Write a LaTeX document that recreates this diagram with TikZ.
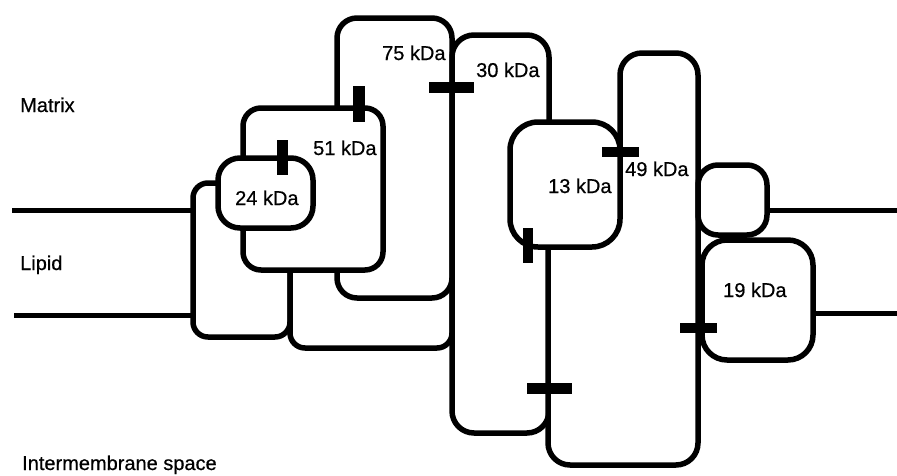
\documentclass[tikz,border=0pt]{standalone}
\usepackage{fontspec}
\setmainfont{Liberation Sans}
\newfontfamily\lblfont{Liberation Sans}[FakeBold=0.6]
\begin{document}
\begin{tikzpicture}[x=1pt,y=-1pt,
  prot/.style={draw=black,fill=white,line width=5.5pt,line join=round},
  memb/.style={draw=black,line width=5pt},
  tickbar/.style={fill=black},
  lbl/.style={inner sep=0pt,anchor=base west,font=\lblfont\fontsize{20}{24}\selectfont}]
\useasboundingbox (0,0) rectangle (897,475);
% membrane end points
\coordinate (mlt0) at (12,210); \coordinate (mlt1) at (193,210);
\coordinate (mlb0) at (14,315); \coordinate (mlb1) at (193,315);
\coordinate (mrt0) at (767,210); \coordinate (mrt1) at (897,210);
\coordinate (mrb0) at (813,313); \coordinate (mrb1) at (897,313);
\draw[memb] (mlt0) -- (mlt1);
\draw[memb] (mlb0) -- (mlb1);
\draw[memb] (mrt0) -- (mrt1);
\draw[memb] (mrb0) -- (mrb1);
% subunits, back to front
\draw[prot,rounded corners=15pt] (193,183) rectangle (290,337);
\draw[prot,rounded corners=15pt] (290,240) rectangle (452,348);
\draw[prot,rounded corners=20pt] (337,18) rectangle (452,298);
\draw[prot,rounded corners=18pt] (243,108) rectangle (383,270);
\draw[prot,rounded corners=22pt] (218,158) rectangle (313,228);
\draw[prot,rounded corners=22pt] (452,35) rectangle (549,433);
\draw[prot,rounded corners=22pt] (548,200) -- (548,465) -- (698,465) -- (698,53) -- (620,53) -- (620,200) -- cycle;
\draw[prot,rounded corners=28pt] (510,122) rectangle (620,247);
\draw[prot,rounded corners=20pt] (698,165) rectangle (767,235);
\draw[prot,rounded corners=25pt] (702,240) rectangle (813,360);
% ticks
\fill[tickbar] (277,140) rectangle (288,175);
\fill[tickbar] (353,86) rectangle (365,122);
\fill[tickbar] (429,82) rectangle (474,93);
\fill[tickbar] (523,228) rectangle (533,263);
\fill[tickbar] (602,147) rectangle (639,157);
\fill[tickbar] (527,383) rectangle (572,394);
\fill[tickbar] (680,323) rectangle (717,333);
% labels
\node[lbl] (matrix) at (20,112) {Matrix};
\node[lbl] (lipid) at (20,270) {Lipid};
\node[lbl] (ims) at (22,470) {Intermembrane space};
\node[lbl] (k24) at (235,205) {24 kDa};
\node[lbl] (k51) at (313,155) {51 kDa};
\node[lbl] (k75) at (382,60) {75 kDa};
\node[lbl] (k30) at (476,77) {30 kDa};
\node[lbl] (k13) at (548,193) {13 kDa};
\node[lbl] (k49) at (625,176) {49 kDa};
\node[lbl] (k19) at (723,297) {19 kDa};
\end{tikzpicture}
\end{document}
